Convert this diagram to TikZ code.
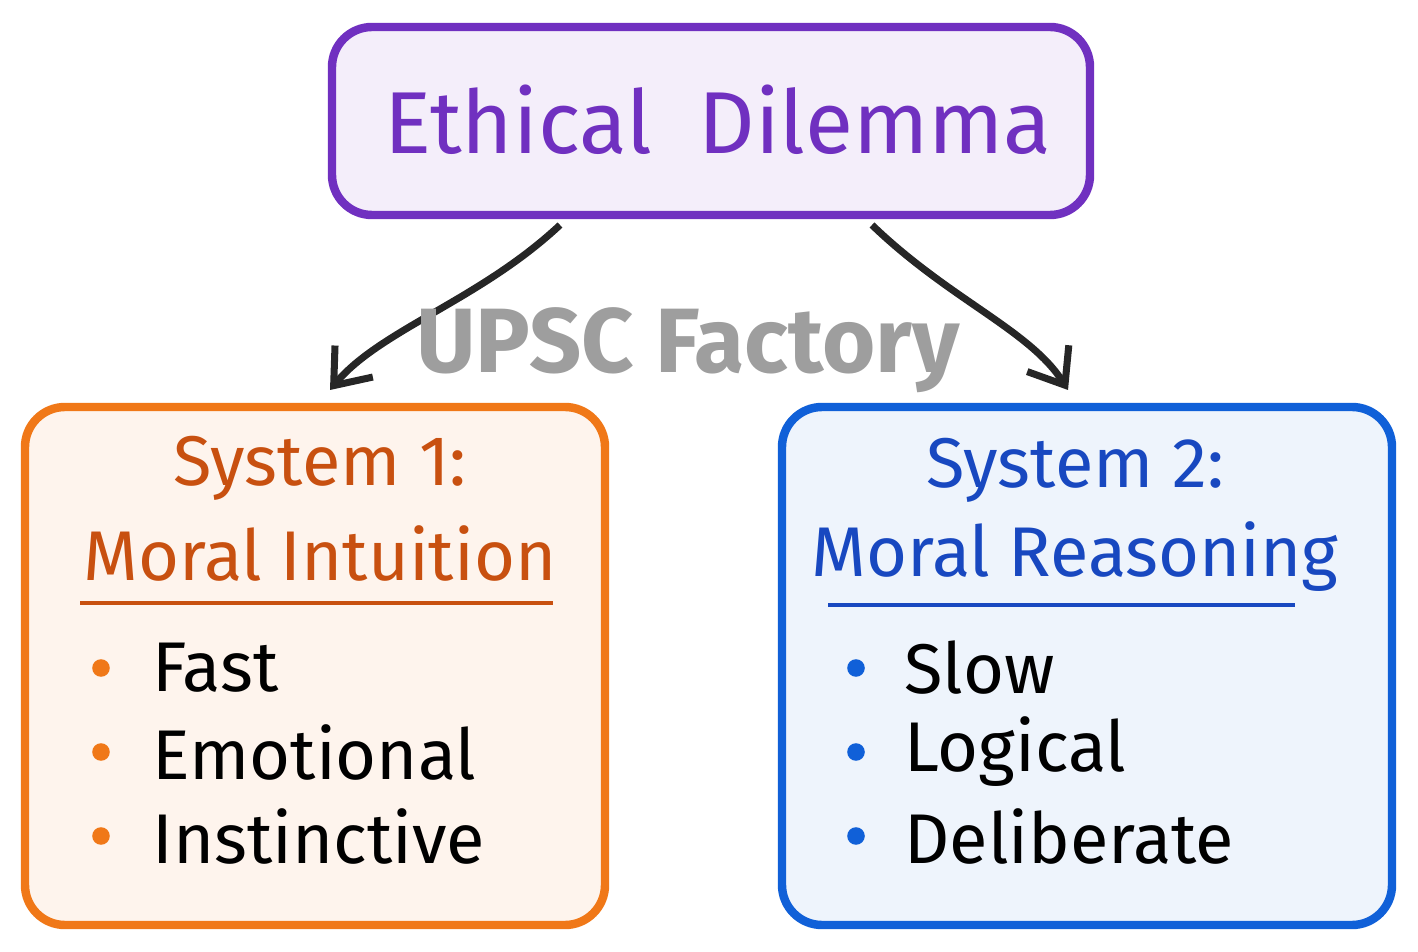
\documentclass[tikz,border=0pt]{standalone}
\usepackage{fontspec}
\setmainfont{Fira Sans}
\usetikzlibrary{arrows.meta, positioning}
\definecolor{dilemma}{HTML}{7030C0}
\definecolor{sysone}{HTML}{F07818}
\definecolor{sysonetxt}{HTML}{C85010}
\definecolor{systwo}{HTML}{1060D8}
\definecolor{systwotxt}{HTML}{1848C0}

\begin{document}
\begin{tikzpicture}[x=0.01cm,y=-0.01cm]
    \tikzstyle{box}=[line width=2.4pt, rounded corners=0.4cm]
    \tikzstyle{heading}=[font=\fontsize{20}{24}\selectfont, anchor=center]
    \tikzstyle{item}=[font=\fontsize{20}{24}\selectfont, anchor=west]
    \tikzstyle{dot}=[circle, inner sep=0pt, minimum size=5pt]
    \tikzstyle{link}=[-{Straight Barb[length=9pt,width=14pt]}, line width=2pt, black!85]

    \useasboundingbox (0,0) rectangle (1418,952);

    % Boxes
    \draw[box, draw=dilemma, fill=dilemma!8] (332,27) rectangle (1090,215);
    \node[font=\fontsize{25}{30}\selectfont, text=dilemma] (top) at (718,120) {Ethical\ \ Dilemma};
    \coordinate (topL) at (560,225);
    \coordinate (topR) at (872,225);

    \draw[box, draw=sysone, fill=sysone!8] (25,407) rectangle (605,925);
    \draw[box, draw=systwo, fill=systwo!7] (782,407) rectangle (1392,925);

    % Headings
    \node[heading, text=sysonetxt] (h1a) at (320,468) {System 1:};
    \node[heading, text=sysonetxt] (h1b) at (320,553) {Moral Intuition};
    \draw[sysonetxt, line width=1.4pt] (80,603) -- (553,603);
    \node[heading, text=systwotxt] (h2a) at (1075,470) {System 2:};
    \node[heading, text=systwotxt] (h2b) at (1075,557) {Moral Reasoning};
    \draw[systwotxt, line width=1.4pt] (828,605) -- (1295,605);

    \coordinate (s1) at (330,390);
    \coordinate (s2) at (1068,390);

    % Bullet lists
    \foreach \name / \y in {Fast/668, Emotional/752, Instinctive/836} {
        \node[dot, fill=sysone] at (101,\y) {};
        \node[item] (L-\name) at (140,\y) {\name};
    }
    \foreach \name / \y in {Slow/668, Logical/752, Deliberate/836} {
        \node[dot, fill=systwo] at (856,\y) {};
        \node[item] (R-\name) at (892,\y) {\name};
    }

    % Connectors
    \draw[link] (topL) .. controls (480,300) and (380,330) .. (s1);
    \draw[link] (topR) .. controls (950,300) and (1030,330) .. (s2);

    % Watermark
    \node[font=\fontsize{26}{30}\selectfont\bfseries, text=black!38] (mark) at (688,350) {UPSC Factory};
\end{tikzpicture}
\end{document}
